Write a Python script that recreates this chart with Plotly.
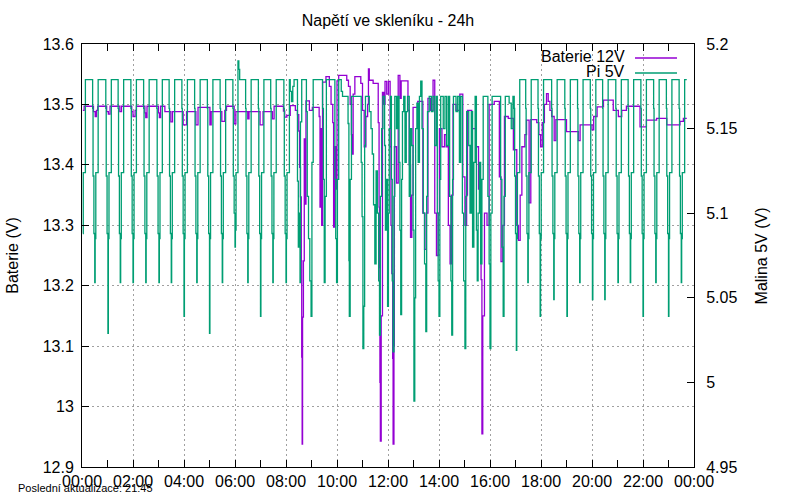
import pandas as pd
import plotly.graph_objs as go

day = pd.Timestamp('2024-01-01')

# Baterie 12V - minutes from midnight / volts (left axis)
bat_minutes = [2, 5, 27, 31, 34, 37, 58, 62, 66, 89, 93, 117, 120, 125, 128, 148, 150, 153,
               180, 182, 185, 195, 209, 213, 238, 246, 268, 273, 301, 304, 329, 336, 340,
               358, 362, 390, 393, 419, 426, 448, 452, 474, 477, 482, 490, 502, 507, 510,
               512, 514, 516, 517, 518, 519, 521, 523, 525, 527, 535, 542, 558, 560, 562,
               564, 566, 574, 582, 586, 590, 592, 594, 597, 600, 604, 623, 627, 631, 634,
               636, 638, 642, 656, 660, 664, 668, 672, 674, 676, 685, 697, 699, 700, 701,
               702, 704, 707, 710, 713, 717, 721, 725, 727, 729, 731, 732, 734, 735, 740,
               744, 748, 751, 767, 770, 773, 776, 779, 790, 802, 806, 810, 814, 820, 826,
               830, 834, 838, 841, 847, 853, 857, 862, 866, 869, 873, 880, 889, 896, 901,
               905, 907, 917, 927, 933, 939, 941, 943, 947, 953, 958, 970, 982, 986, 990,
               994, 1003, 1015, 1023, 1027, 1031, 1035, 1042, 1046, 1052, 1056, 1070, 1075,
               1079, 1083, 1088, 1093, 1097, 1101, 1105, 1111, 1115, 1140, 1168, 1172, 1200,
               1204, 1212, 1227, 1250, 1262, 1270, 1281, 1313, 1328, 1352, 1376, 1407, 1415,
               1423]
bat_volts = [13.490, 13.497, 13.488, 13.480, 13.490, 13.497, 13.488, 13.484, 13.497, 13.488,
             13.497, 13.488, 13.480, 13.490, 13.497, 13.486, 13.478, 13.497, 13.486, 13.478,
             13.497, 13.488, 13.471, 13.488, 13.466, 13.488, 13.466, 13.495, 13.466, 13.488,
             13.472, 13.490, 13.497, 13.468, 13.488, 13.476, 13.488, 13.466, 13.488, 13.476,
             13.497, 13.489, 13.479, 13.482, 13.498, 13.490, 13.483, 13.456, 13.396, 13.347,
             13.241, 13.082, 12.938, 13.148, 13.241, 13.443, 13.335, 13.506, 13.490, 13.495,
             13.480, 13.330, 13.460, 13.300, 13.537, 13.546, 13.530, 13.500, 13.470, 13.297,
             13.430, 13.360, 13.539, 13.548, 13.540, 13.530, 13.500, 13.450, 13.418, 13.517,
             13.546, 13.535, 13.490, 13.430, 13.480, 13.500, 13.559, 13.540, 13.535, 13.470,
             13.330, 13.230, 13.040, 12.943, 13.150, 13.520, 13.500, 13.538, 13.517, 13.538,
             13.430, 13.300, 13.220, 13.080, 12.938, 13.100, 13.430, 13.370, 13.548, 13.510,
             13.539, 13.490, 13.400, 13.280, 13.350, 13.495, 13.505, 13.320, 13.260, 13.320,
             13.510, 13.490, 13.540, 13.320, 13.250, 13.320, 13.460, 13.430, 13.450, 13.430,
             13.300, 13.236, 13.350, 13.500, 13.490, 13.517, 13.380, 13.300, 13.350, 13.490,
             13.460, 13.430, 13.360, 13.210, 12.955, 13.150, 13.320, 13.300, 13.500, 13.505,
             13.380, 13.240, 13.300, 13.480, 13.477, 13.425, 13.300, 13.275, 13.350, 13.430,
             13.450, 13.474, 13.337, 13.475, 13.470, 13.450, 13.430, 13.470, 13.500, 13.518,
             13.505, 13.490, 13.480, 13.440, 13.475, 13.455, 13.440, 13.466, 13.458, 13.480,
             13.496, 13.507, 13.490, 13.480, 13.490, 13.497, 13.463, 13.474, 13.477, 13.466,
             13.472, 13.477, 13.477]

# Pi 5V - minutes from midnight / volts (right axis)
pi_minutes = [2, 3, 8,
              25, 26, 28, 30, 31, 32.5, 38,
              56, 57, 59, 61, 62, 63.5, 69,
              85, 86, 88, 90, 91, 92.5, 98,
              115, 116, 118, 120, 121, 122.5, 128,
              145, 146, 148, 150, 151, 152.5, 158,
              176, 177, 179, 181, 182, 183.5, 189,
              205, 206, 208, 210, 211, 212.5, 218,
              235, 236, 238, 240, 241, 242.5, 248,
              265, 266, 268, 270, 271, 272.5, 278,
              295, 296, 298, 300, 301, 302.5, 308,
              325, 326, 328, 330, 331, 332.5, 338,
              355, 356, 358, 360, 361, 362.5, 367, 369, 371,
              385, 386, 388, 390, 391, 392.5, 398,
              415, 416, 418, 420, 421, 422.5, 428,
              444, 445, 447, 449, 450, 451.5, 457,
              475, 476, 478, 480, 481, 482.5, 488,
              490, 493, 496, 499, 507, 509, 511, 513, 514, 517, 528, 530, 533, 536, 539,
              541, 544, 566, 568, 570, 572, 575, 595, 597, 599, 601, 604, 610, 613, 626,
              628, 629, 631, 634, 657, 659, 661, 663, 665, 667, 676, 680, 683, 686, 689,
              692, 695, 698, 700, 702, 705, 708, 712, 714, 717, 719, 721, 723, 726, 728,
              730, 732, 734, 736, 740, 743, 746, 748, 750, 752, 754, 757, 760, 763, 766,
              770, 773, 776, 779, 781, 783, 785, 788, 791, 794, 797, 800, 803, 806, 809,
              811, 813, 817, 822, 826, 830, 834, 836, 838, 840, 842, 844, 850, 854, 858,
              862, 865, 868, 870, 872, 874, 880, 884, 888, 891, 895, 898, 901, 903, 905,
              910, 913, 916, 919, 922, 925, 928, 930, 932, 935, 938, 941, 944, 955, 958,
              960, 962, 965, 985, 988, 991, 993, 996, 1005, 1010, 1014,
              1017, 1018, 1020, 1022, 1023, 1024.5, 1030,
              1044, 1045, 1047, 1049, 1050, 1051.5, 1057,
              1073, 1074, 1076, 1078, 1079, 1080.5, 1086,
              1105, 1106, 1108, 1110, 1111, 1112.5, 1118,
              1136, 1137, 1139, 1141, 1142, 1143.5, 1149,
              1166, 1167, 1169, 1171, 1172, 1173.5, 1179,
              1196, 1197, 1199, 1201, 1202, 1203.5, 1209,
              1225, 1226, 1228, 1230, 1231, 1232.5, 1238,
              1256, 1257, 1259, 1261, 1262, 1263.5, 1269,
              1285, 1286, 1288, 1290, 1291, 1292.5, 1298,
              1315, 1316, 1318, 1320, 1321, 1322.5, 1328,
              1345, 1346, 1348, 1350, 1351, 1352.5, 1358,
              1375, 1376, 1378, 1380, 1381, 1382.5, 1388,
              1405, 1406, 1408, 1410, 1411, 1412.5, 1418,
              1423]
pi_volts = [5.088, 5.124, 5.179,
            5.162, 5.122, 5.088, 5.059, 5.085, 5.124, 5.179,
            5.162, 5.122, 5.088, 5.029, 5.085, 5.124, 5.179,
            5.162, 5.122, 5.088, 5.059, 5.085, 5.124, 5.179,
            5.162, 5.122, 5.088, 5.059, 5.085, 5.124, 5.179,
            5.162, 5.122, 5.088, 5.059, 5.085, 5.124, 5.179,
            5.162, 5.122, 5.088, 5.059, 5.085, 5.124, 5.179,
            5.162, 5.122, 5.088, 5.059, 5.085, 5.124, 5.179,
            5.162, 5.122, 5.088, 5.039, 5.085, 5.124, 5.179,
            5.162, 5.122, 5.088, 5.059, 5.085, 5.124, 5.179,
            5.162, 5.122, 5.088, 5.029, 5.085, 5.124, 5.179,
            5.162, 5.122, 5.088, 5.059, 5.085, 5.124, 5.179,
            5.162, 5.122, 5.100, 5.080, 5.090, 5.124, 5.190, 5.185, 5.179,
            5.162, 5.122, 5.088, 5.059, 5.085, 5.124, 5.179,
            5.162, 5.122, 5.088, 5.039, 5.085, 5.124, 5.179,
            5.162, 5.122, 5.088, 5.059, 5.085, 5.124, 5.179,
            5.162, 5.122, 5.088, 5.059, 5.085, 5.124, 5.179,
            5.172, 5.166, 5.175, 5.179, 5.119, 5.080, 5.100, 5.059, 5.154, 5.179, 5.160, 5.110, 5.085, 5.060, 5.039,
            5.130, 5.179, 5.162, 5.120, 5.059, 5.110, 5.179, 5.120, 5.085, 5.059, 5.120, 5.179, 5.172, 5.169, 5.153,
            5.072, 5.039, 5.120, 5.169, 5.130, 5.098, 5.020, 5.045, 5.140, 5.169, 5.160, 5.150, 5.135, 5.105, 5.070,
            5.125, 5.100, 5.060, 5.028, 5.110, 5.150, 5.169, 5.140, 5.090, 5.120, 5.045, 5.100, 5.150, 5.169, 5.120,
            5.060, 5.018, 5.110, 5.169, 5.150, 5.169, 5.130, 5.090, 5.040, 5.120, 5.160, 5.169, 5.130, 5.160, 5.169,
            5.110, 5.150, 5.140, 5.090, 4.989, 5.050, 5.150, 5.165, 5.130, 5.169, 5.178, 5.150, 5.100, 5.070, 5.030,
            5.110, 5.160, 5.169, 5.160, 5.169, 5.140, 5.169, 5.100, 5.060, 5.039, 5.120, 5.169, 5.150, 5.169, 5.140,
            5.169, 5.110, 5.060, 5.028, 5.120, 5.169, 5.160, 5.169, 5.130, 5.169, 5.100, 5.060, 5.020, 5.110, 5.160,
            5.140, 5.100, 5.160, 5.080, 5.130, 5.169, 5.090, 5.060, 5.100, 5.130, 5.070, 5.120, 5.169, 5.110, 5.070,
            5.020, 5.100, 5.169, 5.120, 5.080, 5.039, 5.110, 5.169, 5.165, 5.150, 5.169,
            5.162, 5.122, 5.088, 5.019, 5.085, 5.124, 5.179,
            5.162, 5.122, 5.088, 5.059, 5.085, 5.124, 5.179,
            5.162, 5.122, 5.088, 5.039, 5.085, 5.124, 5.179,
            5.162, 5.122, 5.088, 5.049, 5.085, 5.124, 5.179,
            5.162, 5.122, 5.088, 5.039, 5.085, 5.124, 5.179,
            5.162, 5.122, 5.088, 5.059, 5.085, 5.124, 5.179,
            5.162, 5.122, 5.088, 5.049, 5.085, 5.124, 5.179,
            5.162, 5.122, 5.088, 5.049, 5.085, 5.124, 5.179,
            5.162, 5.122, 5.088, 5.059, 5.085, 5.124, 5.179,
            5.162, 5.122, 5.088, 5.059, 5.085, 5.124, 5.179,
            5.162, 5.122, 5.088, 5.039, 5.085, 5.124, 5.179,
            5.162, 5.122, 5.088, 5.059, 5.085, 5.124, 5.179,
            5.162, 5.122, 5.088, 5.039, 5.085, 5.124, 5.179,
            5.162, 5.122, 5.088, 5.059, 5.085, 5.124, 5.179,
            5.179]

hour_ticks = [0, 2, 4, 6, 8, 10, 12, 14, 16, 18, 20, 22, 24]
hour_labels = ['00:00', '02:00', '04:00', '06:00', '08:00', '10:00', '12:00',
               '14:00', '16:00', '18:00', '20:00', '22:00', '00:00']
y_ticks = [12.9, 13.0, 13.1, 13.2, 13.3, 13.4, 13.5, 13.6]
y_labels = ['12.9', '13', '13.1', '13.2', '13.3', '13.4', '13.5', '13.6']
y2_ticks = [4.95, 5.0, 5.05, 5.1, 5.15, 5.2]
y2_labels = ['4.95', '5', '5.05', '5.1', '5.15', '5.2']

font_name = 'Liberation Sans'
bat_color = '#9400d3'
pi_color = '#009e73'

bat_x = day + pd.to_timedelta(bat_minutes, unit='min')
pi_x = day + pd.to_timedelta(pi_minutes, unit='min')

fig = go.Figure()
fig.add_trace(go.Scatter(x=bat_x, y=bat_volts, name='Baterie 12V', mode='lines',
                         line=dict(color=bat_color, width=1.3, shape='hv')))
fig.add_trace(go.Scatter(x=pi_x, y=pi_volts, name='Pi 5V', mode='lines', yaxis='y2',
                         line=dict(color=pi_color, width=1.3, shape='hv')))

grid = dict(gridcolor='#a0a0a0', griddash='2px,3px', gridwidth=1)
fig.update_layout(
    width=800, height=500,
    margin=dict(l=82, r=106, t=44, b=33),
    paper_bgcolor='white', plot_bgcolor='white',
    font=dict(family=font_name, size=16, color='black'),
    showlegend=False,
    title=dict(text='Napětí ve skleníku - 24h', x=0.485, xanchor='center',
               y=0.96, yanchor='middle', font=dict(size=16)),
    xaxis=dict(type='date',
               range=[day, day + pd.Timedelta(hours=24)],
               tickvals=[day + pd.Timedelta(hours=h) for h in hour_ticks],
               ticktext=hour_labels,
               ticks='inside', ticklen=7, tickcolor='black',
               minor=dict(dtick=3600000, tick0=day, ticks='inside', ticklen=4,
                          tickcolor='black', showgrid=False),
               showline=True, linecolor='black', linewidth=1, mirror='allticks',
               showgrid=True, zeroline=False, automargin=False, **grid),
    yaxis=dict(range=[12.9, 13.6], tickvals=y_ticks, ticktext=y_labels,
               ticks='inside', ticklen=7, tickcolor='black',
               showline=True, linecolor='black', linewidth=1, mirror=True,
               showgrid=True, zeroline=False, ticklabelstandoff=4,
               automargin=False, **grid),
    yaxis2=dict(range=[4.95, 5.2], tickvals=y2_ticks, ticktext=y2_labels,
                overlaying='y', side='right', anchor='x',
                ticks='inside', ticklen=7, tickcolor='black',
                showline=True, linecolor='black', linewidth=1,
                showgrid=False, zeroline=False, ticklabelstandoff=8,
                automargin=False),
)

# axis titles, gnuplot style key and the footer note
fig.add_annotation(text='Baterie (V)', xref='paper', yref='paper', x=-0.114, y=0.5,
                   textangle=-90, showarrow=False, xanchor='center', yanchor='middle')
fig.add_annotation(text='Malina 5V (V)', xref='paper', yref='paper', x=1.111, y=0.5,
                   textangle=-90, showarrow=False, xanchor='center', yanchor='middle')
fig.add_annotation(text='Baterie 12V', xref='paper', yref='paper', x=0.8905, y=0.9716,
                   showarrow=False, xanchor='right', yanchor='middle')
fig.add_annotation(text='Pi 5V', xref='paper', yref='paper', x=0.8905, y=0.936,
                   showarrow=False, xanchor='right', yanchor='middle')
fig.add_shape(type='line', xref='paper', yref='paper', x0=0.9036, x1=0.9722,
              y0=0.9669, y1=0.9669, line=dict(color=bat_color, width=1.3))
fig.add_shape(type='line', xref='paper', yref='paper', x0=0.9036, x1=0.9722,
              y0=0.9314, y1=0.9314, line=dict(color=pi_color, width=1.3))
fig.add_annotation(text='Poslední aktualizace: 21:45', xref='paper', yref='paper',
                   x=-0.1078, y=-0.05, showarrow=False, xanchor='left', yanchor='middle',
                   font=dict(size=11))

# the page body has an 8px default margin, drop it so the figure sits at 0,0
fig.write_html('out.html', config={'displayModeBar': False},
               post_script="document.body.style.margin='0';")
